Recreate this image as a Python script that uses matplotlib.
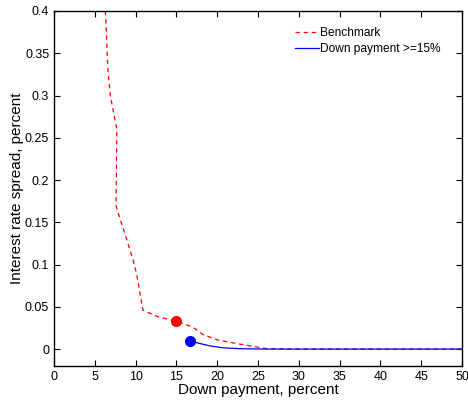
import matplotlib
matplotlib.use("Agg")
import matplotlib.pyplot as plt

plt.rcParams['font.family'] = ['Liberation Sans', 'DejaVu Sans']

# benchmark curve (red dashed)
bench_x = [6.3, 6.6, 6.9, 7.7, 7.6, 7.9, 8.9, 9.7, 10.1, 10.9, 12.8, 15.0, 17.0,
           18.3, 20.0, 22.4, 24.5, 26.0, 30.0, 50.0]
bench_y = [0.40, 0.33, 0.30, 0.26, 0.17, 0.16, 0.13, 0.105, 0.09, 0.046, 0.038,
           0.033, 0.026, 0.017, 0.011, 0.0065, 0.003, 0.0006, 0.0, 0.0]

# down payment >= 15% (blue solid)
dp_x = [16.67, 17.5, 19.0, 20.7, 23.0, 26.0, 50.0]
dp_y = [0.0095, 0.0075, 0.004, 0.0015, 0.0004, 0.0, 0.0]

bench_dot = (15.0, 0.033)
dp_dot = (16.67, 0.0095)

fig = plt.figure(figsize=(4.68, 4.01), dpi=100)
ax = fig.add_axes([0.1154, 0.0873, 0.8718, 0.8853])

ax.plot(bench_x, bench_y, color='red', ls='--', lw=0.9, dashes=(3.5, 3),
        label='Benchmark')
ax.plot(dp_x, dp_y, color='blue', lw=0.9, label='Down payment >=15%')
ax.plot(*bench_dot, 'o', color='red', ms=7)
ax.plot(*dp_dot, 'o', color='blue', ms=7)

ax.set_xlim(0, 50)
ax.set_ylim(-0.02, 0.4)
ax.set_xticks(range(0, 51, 5))
ax.set_yticks([0, 0.05, 0.1, 0.15, 0.2, 0.25, 0.3, 0.35, 0.4])
ax.set_yticklabels(['0', '0.05', '0.1', '0.15', '0.2', '0.25', '0.3', '0.35', '0.4'])
ax.tick_params(direction='in', top=True, right=True, labelsize=9, length=4)
for s in ax.spines.values():
    s.set_linewidth(1.0)
ax.set_xlabel('Down payment, percent', fontsize=11, labelpad=0)
ax.set_ylabel('Interest rate spread, percent', fontsize=11, labelpad=1)
ax.legend(loc='upper right', frameon=False, fontsize=8.6, handlelength=2.0,
          handletextpad=0.1, labelspacing=0.35, borderpad=0,
          bbox_to_anchor=(0.963, 0.972))

fig.savefig('out.png', dpi=100)
